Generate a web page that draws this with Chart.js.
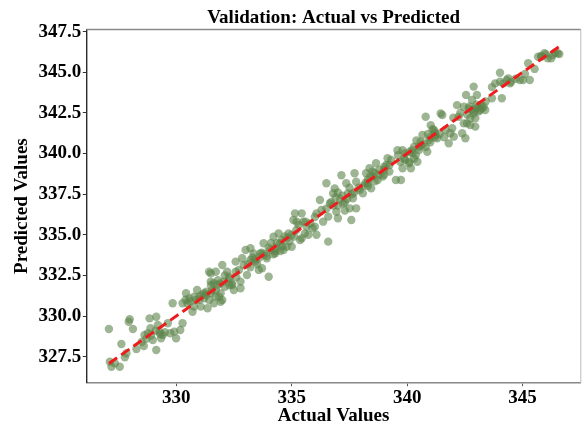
<!DOCTYPE html>
<html>
<head>
<meta charset="utf-8">
<script src="https://cdn.jsdelivr.net/npm/chart.js@4.4.1/dist/chart.umd.min.js"></script>
<style>
  html, body { margin: 0; padding: 0; background: #fff; }
  #chart { display: block; }
</style>
</head>
<body>
<canvas id="chart" width="585" height="429"></canvas>
<script>
// validation set: actual vs predicted
const actualValues = [
  327.08, 327.12, 327.19, 327.34, 327.55, 327.62, 327.77, 327.84, 327.94, 327.98,
  328.12, 328.27, 328.59, 328.62, 328.77, 328.84, 328.88, 328.98, 329.13, 329.13,
  329.20, 329.27, 329.34, 329.41, 329.63, 329.74, 329.84, 329.91, 329.99, 330.17,
  330.27, 330.27, 330.42, 330.49, 330.70, 330.77, 330.56, 330.77, 331.06, 331.20,
  331.35, 331.42, 331.49, 331.63, 331.63, 331.71, 331.85, 331.92,
  330.85, 331.20, 331.42, 331.49, 331.56, 331.71, 331.78, 331.92, 331.99, 331.99,
  332.06, 332.20, 332.28, 332.42, 332.49, 332.57, 332.57, 332.71, 332.78, 332.78,
  332.85, 332.92, 333.00, 333.06, 333.21, 333.21, 333.35, 333.43, 333.57, 333.64,
  333.71, 333.78, 333.92, 334.00, 334.07, 334.21, 334.28, 334.35, 334.43, 334.57,
  334.64, 334.78, 334.86, 335.00, 335.07, 335.14, 335.43, 335.36, 335.50, 335.57,
  335.64, 336.07, 336.00,
  335.21, 335.43, 335.72, 336.07, 336.22, 336.29, 336.36, 336.50, 336.58, 336.58,
  336.65, 336.79, 336.86, 336.93, 337.00, 337.15, 337.22, 337.36, 337.43, 337.51,
  337.58, 337.65, 337.72, 337.79, 337.79, 337.94, 338.08, 338.22, 338.29, 338.37,
  338.44, 338.51, 338.65, 338.72, 338.94, 339.01, 339.15, 339.23, 339.51, 339.73,
  339.58, 339.80, 339.87, 340.09, 340.23, 340.30,
  339.23, 339.30, 339.80, 340.09, 340.16, 340.37, 340.44, 340.51, 340.58, 340.66,
  340.80, 340.87, 340.95, 341.02, 341.16, 341.23, 341.30, 341.45, 341.52, 341.66,
  341.80, 341.87, 341.95, 342.02, 342.16, 342.23, 342.38, 342.45, 342.52, 342.59,
  342.66, 342.73, 342.81, 342.88, 342.95, 343.02, 343.10, 343.24, 343.38, 342.55,
  343.67, 343.81, 344.10, 344.17, 344.45,
  342.45, 342.81, 342.88, 343.16, 343.31, 342.73, 342.95, 343.67, 344.02, 344.02,
  344.31, 344.38, 344.88, 345.02, 345.24, 345.31, 345.52, 345.67, 345.81, 345.95,
  346.09, 346.24, 346.31, 346.52, 346.59,
  331.50, 331.80, 332.10, 332.30, 331.30, 331.00, 330.90, 332.60, 332.40,
  333.40, 333.70, 334.00, 334.30, 334.50, 334.70, 333.90, 334.90, 333.20, 333.50,
  336.80, 337.10, 337.30, 337.60, 337.90, 338.10, 338.30, 336.50, 337.00, 338.60,
  338.80, 339.00, 339.90, 340.20, 340.50, 340.70, 339.70, 341.00, 341.20, 340.40,
  342.70, 342.90, 343.00,
  330.40, 330.60, 331.00, 331.10, 331.30, 331.50, 331.70, 331.90, 332.10, 332.30,
  328.70, 328.90, 329.10, 329.30, 329.50, 328.50,
  333.10, 333.30, 333.60, 333.80, 334.10, 334.30, 334.60, 334.80, 334.50, 334.20,
  335.00, 335.20, 335.30, 335.60, 335.80, 336.00, 335.90, 335.10,
  336.70, 336.90, 337.20, 337.40, 337.50, 337.70, 337.00, 337.30,
  338.20, 338.40, 338.60, 338.80, 339.00, 339.10, 338.50, 338.30,
  339.60, 339.90, 340.10, 340.30, 340.60, 340.80, 341.00, 341.20, 341.40, 341.60,
  341.10, 340.90,
  342.00, 342.30, 342.60, 343.00, 343.20, 343.40, 343.10,
  344.50, 344.70, 345.10, 345.80, 346.00, 346.40
]
const predictedValues = [
  329.20, 327.19, 326.88, 327.09, 326.88, 328.28, 327.46, 327.71, 329.65, 329.80,
  329.20, 327.97, 328.16, 328.84, 328.94, 329.86, 329.25, 328.53, 327.91, 329.96,
  329.45, 329.04, 328.63, 328.84, 329.56, 328.94, 330.79, 329.04, 328.63, 329.14,
  329.56, 330.79, 331.40, 330.79, 330.27, 330.58, 331.09, 331.19, 330.58, 331.40,
  330.48, 330.99, 332.63, 330.79, 332.02, 331.60, 331.19, 330.88,
  330.99, 331.09, 332.73, 332.12, 331.60, 332.73, 331.91, 331.40, 333.14, 330.99,
  332.12, 332.73, 332.42, 331.91, 331.60, 333.35, 332.73, 332.84, 332.12, 331.71,
  333.56, 333.14, 334.07, 332.53, 334.17, 333.45, 333.86, 333.35, 332.84, 333.86,
  332.94, 334.48, 333.56, 332.42, 334.07, 334.88, 333.86, 334.48, 335.09, 334.68,
  334.07, 334.27, 335.09, 334.27, 335.91, 336.32, 336.32, 334.68, 335.81, 335.09,
  335.50, 336.32, 335.50,
  335.81, 334.79, 335.00, 335.00, 337.14, 336.53, 335.81, 338.17, 334.58, 336.12,
  336.93, 337.55, 337.86, 336.42, 336.02, 338.67, 336.93, 338.17, 337.55, 336.63,
  335.91, 337.25, 338.79, 338.27, 336.63, 337.76, 337.55, 338.79, 338.17, 339.10,
  337.86, 338.58, 339.40, 338.37, 338.58, 339.19, 339.71, 338.89, 338.37, 338.37,
  340.21, 340.21, 339.71, 339.40, 340.02, 340.42,
  339.30, 339.61, 339.10, 339.50, 339.10, 339.91, 339.50, 340.22, 340.73, 341.14,
  342.27, 340.11, 340.83, 341.75, 341.45, 341.14, 340.94, 342.47, 342.37, 341.45,
  340.63, 341.25, 341.56, 341.04, 342.98, 342.27, 341.25, 341.86, 340.94, 341.86,
  342.78, 341.75, 342.68, 344.12, 342.17, 343.61, 342.88, 342.78, 342.68, 343.61,
  343.40, 344.32, 343.40, 344.32, 344.32,
  342.88, 343.30, 342.47, 342.68, 342.88, 342.17, 341.66, 344.09, 344.42, 344.97,
  344.53, 344.63, 344.53, 344.53, 345.56, 344.53, 345.21, 345.96, 345.96, 346.17,
  345.86, 345.86, 346.07, 346.17, 346.12,
  331.90, 332.20, 331.80, 332.30, 331.30, 331.20, 331.60, 332.40, 332.00,
  333.50, 333.90, 334.20, 334.00, 334.50, 334.90, 333.70, 334.60, 333.00, 333.20,
  336.80, 337.20, 337.00, 337.50, 337.90, 338.00, 338.40, 336.60, 337.60, 338.80,
  338.70, 339.00, 340.00, 340.20, 340.40, 340.60, 339.50, 341.00, 341.30, 340.80,
  342.90, 342.60, 343.00,
  331.00, 330.90, 331.00, 331.30, 331.50, 331.40, 331.20, 332.00, 332.50, 331.90,
  328.60, 328.80, 329.10, 328.90, 329.00, 328.40,
  333.20, 333.60, 333.60, 333.80, 334.50, 334.20, 334.30, 334.80, 334.00, 333.80,
  335.00, 335.30, 335.60, 335.80, 335.70, 336.10, 335.40, 334.90,
  337.00, 337.30, 337.40, 337.20, 337.90, 337.60, 336.80, 336.50,
  338.20, 338.60, 338.30, 339.00, 338.70, 339.30, 338.90, 338.00,
  339.90, 339.60, 340.10, 339.70, 340.50, 340.40, 340.70, 341.00, 341.20, 341.00,
  341.50, 341.20,
  342.20, 342.50, 342.40, 342.80, 343.00, 343.20, 342.60,
  344.40, 344.60, 344.90, 346.00, 346.10, 346.20
]
// ideal fit line, from the smallest to the largest actual value
const fitLine = [327.08, 346.6]

const xTicks = [330, 335, 340, 345]
const yTicks = [327.5, 330, 332.5, 335, 337.5, 340, 342.5, 345, 347.5]

const serif = '"Liberation Serif", "Times New Roman", serif'

const frame = {
  id: 'frame',
  afterDraw(chart) {
    const { ctx, chartArea: a } = chart
    ctx.save()
    ctx.strokeStyle = '#8a8a8a'
    ctx.lineWidth = 1.5
    ctx.beginPath()
    ctx.moveTo(a.left, a.top)
    ctx.lineTo(a.right, a.top)
    ctx.stroke()
    ctx.strokeStyle = '#bbbbbb'
    ctx.lineWidth = 1
    ctx.beginPath()
    ctx.moveTo(a.right, a.top)
    ctx.lineTo(a.right, a.bottom)
    ctx.stroke()
    // title centred over the axes, like matplotlib
    ctx.fillStyle = '#000'
    ctx.font = 'bold 19px ' + serif
    ctx.textAlign = 'center'
    ctx.textBaseline = 'alphabetic'
    ctx.fillText('Validation: Actual vs Predicted', (a.left + a.right) / 2, 23.3)
    ctx.restore()
  }
}

const ctx = document.getElementById('chart').getContext('2d')

new Chart(ctx, {
  type: 'scatter',
  data: {
    datasets: [
      {
        type: 'line',
        data: fitLine.map(v => ({ x: v, y: v })),
        borderColor: '#ee1c1c',
        borderWidth: 3,
        borderDash: [10, 5],
        pointRadius: 0,
        fill: false,
        order: 0
      },
      {
        data: actualValues.map((v, i) => ({ x: v, y: predictedValues[i] })),
        backgroundColor: 'rgba(92, 132, 74, 0.6)',
        borderWidth: 0,
        pointRadius: 4.2,
        order: 1
      }
    ]
  },
  options: {
    responsive: false,
    animation: false,
    devicePixelRatio: 1,
    layout: {
      padding: { top: 29.5, right: 0.7, bottom: 0, left: 0 }
    },
    plugins: {
      legend: { display: false },
      tooltip: { enabled: false }
    },
    scales: {
      x: {
        type: 'linear',
        min: 326.1,
        max: 347.52,
        afterFit: scale => { scale.height = 46.3 },
        afterBuildTicks: scale => { scale.ticks = xTicks.map(v => ({ value: v })) },
        grid: {
          drawOnChartArea: false,
          drawTicks: true,
          tickLength: 3.5,
          color: '#555'
        },
        border: { display: true, color: '#888', width: 1.6 },
        ticks: {
          color: '#000',
          padding: 0.5,
          maxRotation: 0,
          font: { family: serif, size: 19, weight: 'bold' },
          callback: value => String(value)
        },
        title: {
          display: true,
          text: 'Actual Values',
          color: '#000',
          padding: { top: 0, bottom: 2 },
          font: { family: serif, size: 19, weight: 'bold' }
        }
      },
      y: {
        type: 'linear',
        min: 325.9,
        max: 347.635,
        afterFit: scale => { scale.width = 86.3 },
        afterBuildTicks: scale => { scale.ticks = yTicks.map(v => ({ value: v })) },
        grid: {
          drawOnChartArea: false,
          drawTicks: true,
          tickLength: 3.5,
          color: '#333'
        },
        border: { display: true, color: '#2a2a2a', width: 1.4 },
        ticks: {
          color: '#000',
          padding: 1.5,
          font: { family: serif, size: 19, weight: 'bold' },
          callback: value => value.toFixed(1)
        },
        title: {
          display: true,
          text: 'Predicted Values',
          color: '#000',
          padding: { top: 11, bottom: 0 },
          font: { family: serif, size: 19, weight: 'bold' }
        }
      }
    }
  },
  plugins: [frame]
})
</script>
</body>
</html>
